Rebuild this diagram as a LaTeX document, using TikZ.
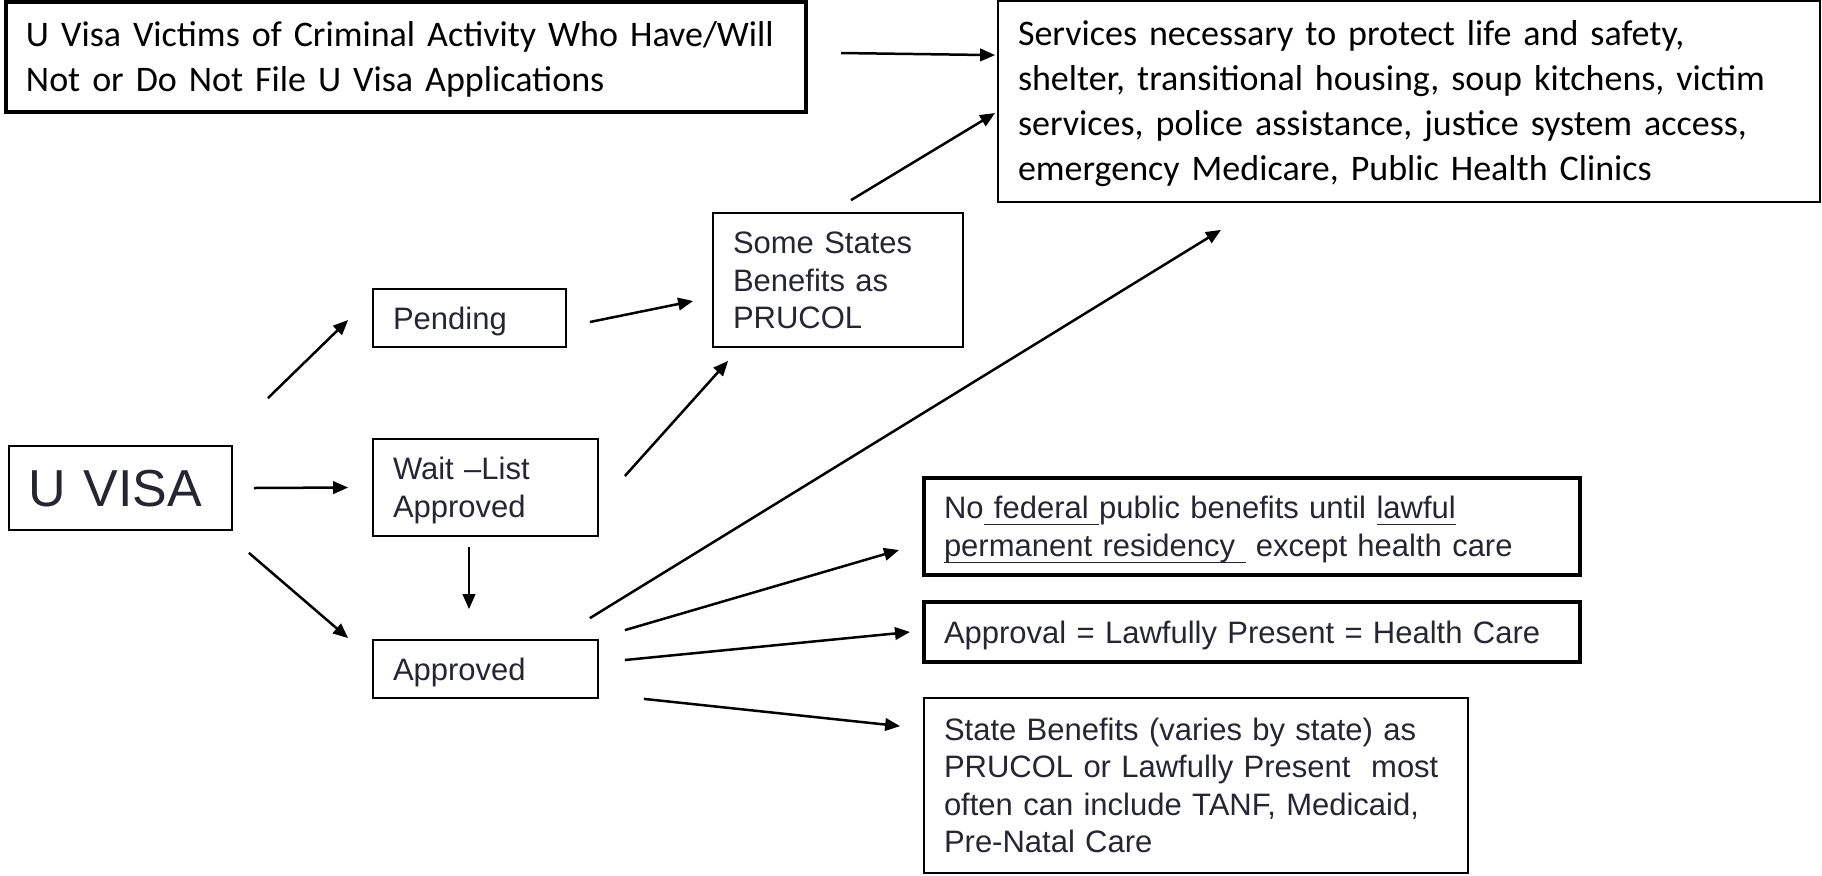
\documentclass[tikz,border=0pt]{standalone}
\usepackage{fontspec}
\setmainfont{Liberation Sans}
\newfontfamily\calibri{Carlito}
\usetikzlibrary{arrows.meta}
\definecolor{txt}{RGB}{38,38,51}
\newcommand\myul[1]{\leavevmode\setbox0\hbox{#1}\rlap{\rule[-2.6pt]{\wd0}{0.5pt}}\box0\relax}
\begin{document}
\begin{tikzpicture}[x=0.4pt,y=-0.4pt,
  box/.style={draw=black, line width=0.7pt, inner ysep=0pt, inner xsep=8pt, align=left,
    font=\fontsize{12.4}{15}\selectfont, text=txt, text height=8.9pt},
  thickbox/.style={box, line width=1.6pt},
  calbox/.style={box, font=\calibri\fontsize{14.4}{18}\selectfont, text=black, text height=9.3pt},
  arr/.style={line width=1pt, -{Triangle[length=6pt,width=5pt]}}]
\useasboundingbox (0,0) rectangle (1822,875);

\node[calbox, line width=1.6pt, minimum height=44pt, text width=304pt, text depth=18pt] (victims) at (406,57)
  {\mbox{U Visa Victims of Criminal Activity Who Have/Will}\\\mbox{Not or Do Not File U Visa Applications}};
\node[calbox, minimum height=80.4pt, text width=312.8pt, text depth=54pt] (services) at (1409,101.5)
  {Services necessary to protect life and safety,\\shelter, transitional housing, soup kitchens, victim\\services, police assistance, justice system access,\\emergency Medicare, Public Health Clinics};
\node[box, minimum height=33.6pt, text width=73.2pt, inner xsep=8pt, font=\fontsize{20.8}{24}\selectfont, text height=14.9pt, text depth=0pt] (uvisa) at (120.5,488) {U VISA};
\node[box, minimum height=23.2pt, text width=61.2pt, text depth=0pt] (pending) at (469.5,318) {Pending};
\node[box, minimum height=38.8pt, text width=74pt, text depth=15pt] (wait) at (485.5,487.5) {Wait –List\\Approved};
\node[box, minimum height=23.2pt, text width=74pt, text depth=0pt] (approved) at (485.5,669) {Approved};
\node[box, minimum height=53.6pt, text width=84pt, text depth=30pt] (some) at (838,280) {Some States\\Benefits as\\PRUCOL};
\node[thickbox, minimum height=38.8pt, text width=246.4pt, text depth=15pt] (nofed) at (1252,526.5)
  {No\myul{\ federal\ }public benefits until \myul{lawful}\\\myul{permanent residency\ }\ except health care};
\node[thickbox, minimum height=24pt, text width=246.4pt, text depth=0pt] (approval) at (1252,632)
  {Approval = Lawfully Present = Health Care};
\node[box, minimum height=70pt, text width=201.6pt, text depth=45pt] (state) at (1196,785.5)
  {State Benefits (varies by state) as\\PRUCOL or Lawfully Present\ \ most\\often can include TANF, Medicaid,\\Pre-Natal Care};

\draw[arr] ([shift={(33,-4)}]victims.east) -- ([shift={(-2,55)}]services.north west);
\draw[arr] ([shift={(35,-47)}]uvisa.north east) -- ([shift={(-24,2)}]pending.west);
\draw[arr] ([shift={(21,0)}]uvisa.east) -- ([shift={(-24,0)}]wait.west);
\draw[arr] ([shift={(16,22)}]uvisa.south east) -- ([shift={(-24,-1)}]approved.north west);
\draw[arr] ([shift={(23,4)}]pending.east) -- ([shift={(-19,21)}]some.west);
\draw[arr] ([shift={(26,-11.5)}]wait.east) -- ([shift={(16,13)}]some.south west);
\draw[arr] ([shift={(-16.5,10)}]wait.south) -- ([shift={(-16.5,-30)}]approved.north);
\draw[arr] ([shift={(13,-12)}]some.north) -- ([shift={(-2,11.5)}]services.west);
\draw[arr] ([shift={(-9,-21)}]approved.north east) -- ([shift={(-188,27)}]services.south);
\draw[arr] ([shift={(26,-9)}]approved.north east) -- ([shift={(-23,23.5)}]nofed.west);
\draw[arr] ([shift={(26,-9)}]approved.east) -- ([shift={(-12,0)}]approval.west);
\draw[arr] ([shift={(45,0)}]approved.south east) -- ([shift={(-23,29)}]state.north west);
\end{tikzpicture}
\end{document}
